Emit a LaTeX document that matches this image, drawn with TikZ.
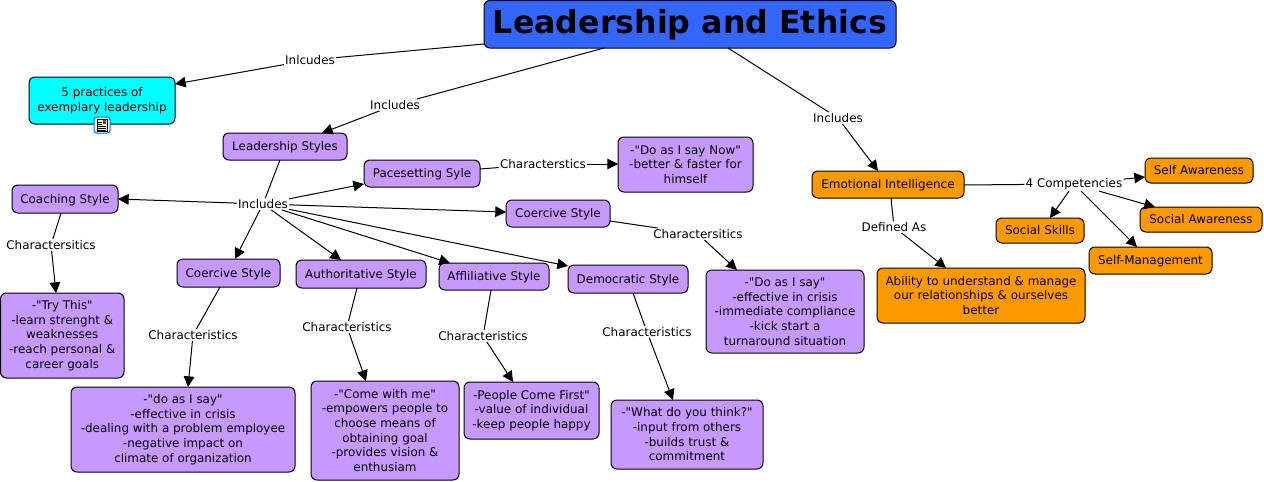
\documentclass[tikz,border=0pt]{standalone}
\usepackage{fontspec}
\newfontfamily\vfont{DejaVu Sans}
\usetikzlibrary{arrows.meta}
\definecolor{purp}{HTML}{C699FF}
\definecolor{oran}{HTML}{FF9900}
\definecolor{cyanb}{HTML}{00FFFF}
\definecolor{blueb}{HTML}{3366FF}
\tikzset{
  concept/.style={draw=black,line width=0.75pt,rounded corners=4.5pt,inner sep=0pt,outer sep=0pt,align=center,
    font=\vfont\fontsize{8.95pt}{11pt}\selectfont,text=black},
  purple box/.style={concept,fill=purp},
  orange box/.style={concept,fill=oran},
  cyan box/.style={concept,fill=cyanb},
  oneline/.style={text height=8pt,text depth=1.6pt},
  title box/.style={concept,fill=blueb,font=\vfont\fontsize{23.75pt}{28pt}\selectfont\bfseries,text height=19.5pt,text depth=5.5pt},
  linklabel/.style={inner sep=1pt,outer sep=0pt,font=\vfont\fontsize{8.95pt}{11pt}\selectfont,text=black},
  conn/.style={line width=0.75pt,draw=black},
  arr/.style={conn,-{Triangle[length=8pt,width=8pt]}}
}
\newcommand{\boxnode}[7]{%
  \pgfmathsetmacro{\cxx}{(#3+#5)/2}\pgfmathsetmacro{\cyy}{(#4+#6)/2}%
  \pgfmathsetmacro{\www}{(#5-#3)*0.75}\pgfmathsetmacro{\hhh}{(#6-#4)*0.75}%
  \node[#2,minimum width=\www pt,minimum height=\hhh pt] (#1) at (\cxx,\cyy) {#7};}
\begin{document}
\begin{tikzpicture}[x=0.75pt,y=-0.75pt]
\useasboundingbox (0,0) rectangle (1264,482);
% concepts
\boxnode{title}{title box}{484}{0.5}{896}{48}{Leadership and Ethics}
\boxnode{five}{cyan box}{29}{77}{175}{124}{5 practices of\\exemplary leadership}
\boxnode{ls}{purple box,oneline}{223}{133}{347}{160}{Leadership Styles}
\boxnode{coach}{purple box,oneline}{12}{185}{118}{213}{Coaching Style}
\boxnode{pace}{purple box,oneline}{364}{160}{480}{187}{Pacesetting Syle}
\boxnode{now}{purple box}{618}{137}{753}{192}{-"Do as I say Now"\\-better \& faster for\\himself}
\boxnode{coerB}{purple box,oneline}{506}{200}{610}{227}{Coercive Style}
\boxnode{coerA}{purple box,oneline}{177}{259}{280}{287}{Coercive Style}
\boxnode{auth}{purple box,oneline}{296}{260}{426}{288}{Authoritative Style}
\boxnode{affil}{purple box,oneline}{439}{263}{549}{290}{Affliliative Style}
\boxnode{demo}{purple box,oneline}{568}{265}{688}{293}{Democratic Style}
\boxnode{sayB}{purple box}{706}{270}{864}{353}{-"Do as I say"\\-effective in crisis\\-immediate compliance\\-kick start a\\turnaround situation}
\boxnode{try}{purple box}{0.5}{293}{124}{378}{-"Try This"\\-learn strenght \&\\weaknesses\\-reach personal \&\\career goals}
\boxnode{sayA}{purple box}{71}{387}{295}{472}{-"do as I say"\\-effective in crisis\\-dealing with a problem employee\\-negative impact on\\climate of organization}
\boxnode{come}{purple box}{311}{381}{459}{480}{-"Come with me"\\-empowers people to\\choose means of\\obtaining goal\\-provides vision \&\\enthusiam}
\boxnode{people}{purple box}{464}{382}{599}{439}{-People Come First"\\-value of individual\\-keep people happy}
\boxnode{what}{purple box}{611}{400}{763}{469}{-"What do you think?"\\-input from others\\-builds trust \&\\commitment}
\boxnode{ei}{orange box,oneline}{812}{171}{964}{198}{Emotional Intelligence}
\boxnode{selfaw}{orange box,oneline}{1145}{158}{1253}{183}{Self Awareness}
\boxnode{socaw}{orange box,oneline}{1140}{207}{1262}{232}{Social Awareness}
\boxnode{socsk}{orange box,oneline}{996}{218}{1084}{243}{Social Skills}
\boxnode{selfm}{orange box,oneline}{1089}{247}{1212}{274}{Self-Management}
\boxnode{abil}{orange box}{877}{268}{1085}{323}{Ability to understand \& manage\\our relationships \& ourselves\\better}
% link labels
\node[linklabel] (l1) at (310,60) {Inlcudes};
\node[linklabel] (l2) at (395,105) {Includes};
\node[linklabel] (l3) at (838,118) {Includes};
\node[linklabel] (l4) at (263,204) {Includes};
\node[linklabel] (l5) at (543,164) {Characterstics};
\node[linklabel] (l6) at (698,234) {Charactersitics};
\node[linklabel] (l7) at (51,245) {Charactersitics};
\node[linklabel] (l8) at (193,335) {Characteristics};
\node[linklabel] (l9) at (347,327) {Characteristics};
\node[linklabel] (l10) at (483,336) {Characteristics};
\node[linklabel] (l11) at (647,332) {Characteristics};
\node[linklabel] (l12) at (894,227) {Defined As};
\node[linklabel] (l13) at (1074,184) {4 Competencies};
% connectors
\draw[conn] ([shift={(0,-4)}]title.south west) -- (l1);
\draw[arr] (l1) -- ([shift={(0,7)}]five.north east);
\draw[conn] ([shift={(120,0)}]title.south west) -- (l2);
\draw[arr] (l2) -- ([shift={(99,0)}]ls.north west);
\draw[conn] ([shift={(244,0)}]title.south west) -- (l3);
\draw[arr] (l3) -- ([shift={(66,0)}]ei.north west);
\draw[conn] ([shift={(57,0)}]ls.south west) -- (l4);
\draw[arr] (l4) -- ([shift={(58,0)}]coerA.north west);
\draw[arr] (l4) -- ([shift={(0,14)}]coach.north east);
\draw[arr] (l4) -- ([shift={(0,24)}]pace.north west);
\draw[arr] (l4) -- ([shift={(0,12)}]coerB.north west);
\draw[arr] (l4) -- ([shift={(45,0)}]auth.north west);
\draw[arr] (l4) -- ([shift={(11,0)}]affil.north west);
\draw[arr] (l4) -- ([shift={(0,1)}]demo.north west);
\draw[conn] ([shift={(0,9)}]pace.north east) -- (l5);
\draw[arr] (l5) -- ([shift={(0,27)}]now.north west);
\draw[conn] ([shift={(0,21)}]coerB.north east) -- (l6);
\draw[arr] (l6) -- ([shift={(31,0)}]sayB.north west);
\draw[conn] ([shift={(49,0)}]coach.south west) -- (l7);
\draw[arr] (l7) -- ([shift={(55.5,0)}]try.north west);
\draw[conn] ([shift={(43,0)}]coerA.south west) -- (l8);
\draw[arr] (l8) -- ([shift={(117,0)}]sayA.north west);
\draw[conn] ([shift={(61,0)}]auth.south west) -- (l9);
\draw[arr] (l9) -- ([shift={(55,0)}]come.north west);
\draw[conn] ([shift={(52,0)}]affil.south west) -- (l10);
\draw[arr] (l10) -- ([shift={(49,0)}]people.north west);
\draw[conn] ([shift={(65,0)}]demo.south west) -- (l11);
\draw[arr] (l11) -- ([shift={(62,0)}]what.north west);
\draw[conn] ([shift={(79,0)}]ei.south west) -- (l12);
\draw[arr] (l12) -- ([shift={(69,0)}]abil.north west);
\draw[conn] ([shift={(0,14)}]ei.north east) -- (l13);
\draw[arr] (l13) -- ([shift={(0,19)}]selfaw.north west);
\draw[arr] (l13) -- ([shift={(15,0)}]socaw.north west);
\draw[arr] (l13) -- ([shift={(48,0)}]selfm.north west);
\draw[arr] (l13) -- ([shift={(54,0)}]socsk.north west);
% resource icon
\draw[draw=blue!60!cyan,fill=white,line width=0.75pt,rounded corners=2pt] (94,117) rectangle (110,133);
\draw[draw=black,fill=yellow!25,line width=0.6pt] (97,119) rectangle (107,131);
\fill[blue!50!gray] (102.5,120) rectangle (106,124);
\draw[line width=0.5pt] (98,122) -- (101.5,122) (98,124) -- (101.5,124) (98,126) -- (106,126) (98,128) -- (106,128) (98,130) -- (106,130);
\end{tikzpicture}
\end{document}
